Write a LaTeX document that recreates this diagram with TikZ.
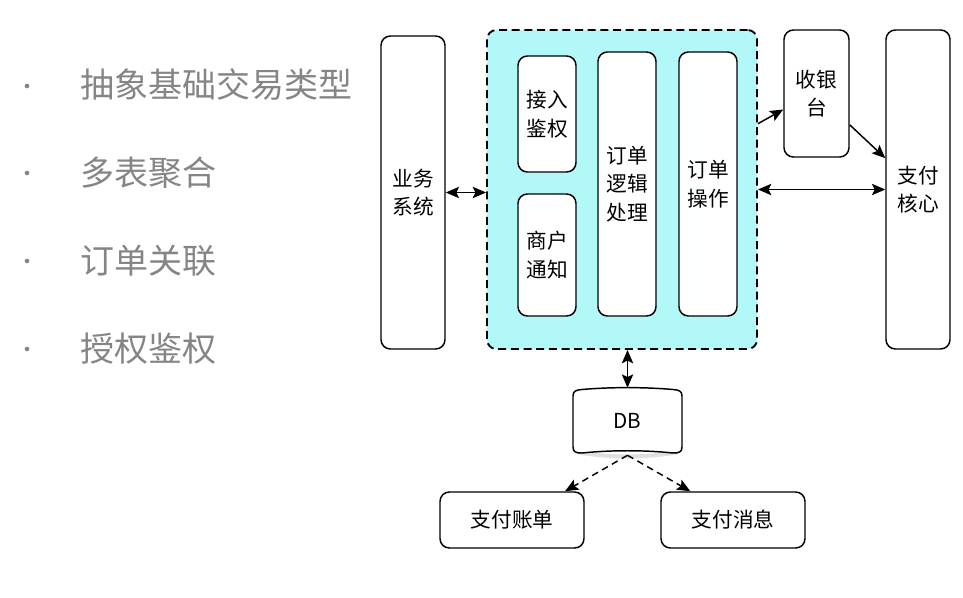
\documentclass[tikz,border=0pt]{standalone}
\usepackage{fontspec}
\setmainfont{Noto Sans CJK SC}
\usepackage{tikz}
\usetikzlibrary{positioning,arrows.meta}
\usepackage{xcolor}
\definecolor{bgcyan}{HTML}{B2F8F8}
\definecolor{txtgray}{HTML}{858585}

\begin{document}
\begin{tikzpicture}[x=0.75pt,y=-0.75pt,
      >={Stealth[length=10pt,width=8.5pt,inset=2pt]},
      box/.style={draw,line width=1.1pt,rounded corners=7pt,inner sep=0pt,align=center,font=\fontsize{15.5}{21.5}\selectfont},
      item/.style={anchor=west,inner sep=0pt,text=txtgray,font=\fontsize{25.5}{30}\selectfont},
      dot/.style={circle,fill=txtgray,inner sep=0pt,minimum size=3.5pt},
      link/.style={line width=1.1pt,<->},
      arr/.style={line width=1.1pt,->},
      dsh/.style={line width=1.1pt,dash pattern=on 5pt off 3.5pt,->}
    ]
      \useasboundingbox (0,0) rectangle (963,597);
      % left list
      \node[dot] (d1) at (27,86) {};
      \node[dot] (d2) at (27,173) {};
      \node[dot] (d3) at (27,261) {};
      \node[dot] (d4) at (27,349) {};
      \node[item] (t1) at (80,85) {抽象基础交易类型};
      \node[item] (t2) at (80,173) {多表聚合};
      \node[item] (t3) at (80,261) {订单关联};
      \node[item] (t4) at (80,349) {授权鉴权};
      % order service
      \node[draw,line width=1.4pt,dash pattern=on 6pt off 3.5pt,fill=bgcyan,rounded corners=7pt,
            minimum width=202.5pt,minimum height=239.25pt] (svc) at (622,189.5) {};
      \node[box,fill=white,minimum width=43.5pt,minimum height=87pt] (auth) at (547,114) {接入\\鉴权};
      \node[box,fill=white,minimum width=43.5pt,minimum height=91.5pt] (notify) at (547,255) {商户\\通知};
      \node[box,fill=white,minimum width=43.5pt,minimum height=198pt] (logic) at (627,184) {订单\\逻辑\\处理};
      \node[box,fill=white,minimum width=43.5pt,minimum height=198pt] (oper) at (708,184) {订单\\操作};
      % outer systems
      \node[box,minimum width=48pt,minimum height=234.75pt] (biz) at (413,192.5) {业务\\系统};
      \node[box,minimum width=48.75pt,minimum height=95.25pt] (cashier) at (816.5,93.5) {收银\\台};
      \node[box,minimum width=48pt,minimum height=239.25pt] (core) at (918,189.5) {支付\\核心};
      % storage
      \fill[black!12] (576,450) .. controls (610,456) and (645,456) .. (679,450) -- (679,454) .. controls (645,460) and (610,460) .. (576,454) -- cycle;
      \draw[line width=1.1pt,fill=white] (573,447) -- (573,396) .. controls (573,391) and (576,390) .. (582,389.5)
            .. controls (610,387) and (645,387) .. (673,389.5) .. controls (679,390) and (682,391) .. (682,396)
            -- (682,447) .. controls (682,452) and (679,453) .. (673,453) .. controls (645,450) and (610,450) .. (582,453)
            .. controls (576,453) and (573,452) .. (573,447) -- cycle;
      \node[inner sep=0pt,minimum width=81.75pt,minimum height=48.75pt,font=\fontsize{15.5}{19}\selectfont] (db) at (627.5,420.5) {DB};
      \node[box,minimum width=108pt,minimum height=42pt] (bill) at (512,520) {支付账单};
      \node[box,minimum width=108pt,minimum height=42pt] (msg) at (733,520) {支付消息};
      % connectors
      \draw[link] (biz.east) -- (biz.east -| svc.west);
      \draw[link] (svc.east) -- (core.west);
      \draw[arr] ([yshift=-71pt]svc.north east) -- ([yshift=-12pt]cashier.west);
      \draw[arr] ([yshift=-23.5pt]cashier.east) -- ([yshift=23.5pt]core.west);
      \draw[link] (db.north |- svc.south) -- (db.north);
      \draw[dsh] ([yshift=-1.5pt]db.south) -- ([xshift=39.75pt]bill.north);
      \draw[dsh] ([yshift=-1.5pt]db.south) -- ([xshift=-32pt]msg.north);
    \end{tikzpicture}
\end{document}
